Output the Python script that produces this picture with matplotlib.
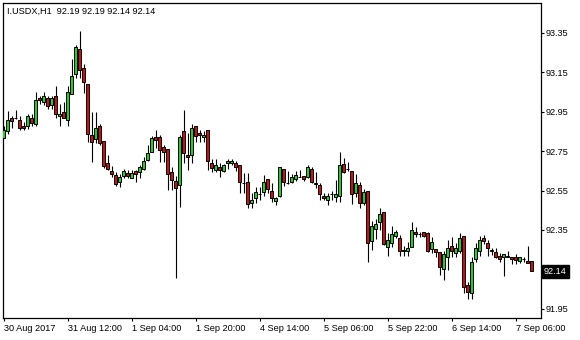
import numpy as np
import matplotlib.pyplot as plt

# H1 candles of I.USDX, 30 Aug 2017 20:00 .. 7 Sep 2017 10:00
opens = [92.819, 92.853, 92.917, 92.917, 92.907, 92.878, 92.876, 92.917, 92.887, 93.019,
         92.998, 93.019, 92.985, 93.029, 92.927, 92.947, 92.907, 93.039, 93.140, 93.267,
         93.171, 93.090, 92.832, 92.810, 92.878, 92.802, 92.689, 92.650, 92.629, 92.595,
         92.626, 92.639, 92.616, 92.648, 92.646, 92.660, 92.707, 92.747, 92.822, 92.822,
         92.771, 92.761, 92.646, 92.599, 92.577, 92.853, 92.731, 92.728, 92.878, 92.842,
         92.821, 92.856, 92.689, 92.655, 92.668, 92.648, 92.689, 92.689, 92.692, 92.680,
         92.590, 92.594, 92.489, 92.511, 92.531, 92.541, 92.607, 92.548, 92.499, 92.521,
         92.658, 92.590, 92.595, 92.607, 92.619, 92.624, 92.618, 92.658, 92.587, 92.578,
         92.523, 92.501, 92.533, 92.519, 92.521, 92.687, 92.658, 92.650, 92.536, 92.578,
         92.489, 92.547, 92.296, 92.355, 92.388, 92.441, 92.265, 92.286, 92.320, 92.311,
         92.245, 92.245, 92.265, 92.341, 92.330, 92.341, 92.333, 92.254, 92.252, 92.240,
         92.151, 92.215, 92.269, 92.235, 92.245, 92.320, 92.069, 92.029, 92.201, 92.245,
         92.308, 92.286, 92.245, 92.238, 92.218, 92.211, 92.215, 92.215, 92.211, 92.194,
         92.201, 92.193, 92.19]
highs = [92.878, 92.954, 92.930, 92.958, 92.927, 92.900, 92.937, 92.937, 93.051, 93.032,
         93.051, 93.029, 93.032, 93.081, 92.991, 92.998, 93.081, 93.216, 93.289, 93.360,
         93.191, 93.090, 92.947, 92.947, 92.887, 92.802, 92.731, 92.676, 92.646, 92.636,
         92.660, 92.656, 92.656, 92.656, 92.680, 92.721, 92.781, 92.826, 92.859, 92.832,
         92.781, 92.761, 92.670, 92.626, 92.832, 92.959, 92.842, 92.888, 92.878, 92.858,
         92.854, 92.856, 92.709, 92.709, 92.692, 92.685, 92.709, 92.709, 92.699, 92.680,
         92.638, 92.638, 92.536, 92.570, 92.567, 92.629, 92.607, 92.587, 92.519, 92.671,
         92.658, 92.651, 92.634, 92.651, 92.655, 92.624, 92.680, 92.670, 92.644, 92.589,
         92.538, 92.540, 92.549, 92.604, 92.748, 92.715, 92.695, 92.650, 92.634, 92.595,
         92.558, 92.547, 92.396, 92.406, 92.460, 92.441, 92.333, 92.370, 92.350, 92.325,
         92.269, 92.291, 92.392, 92.364, 92.341, 92.341, 92.341, 92.313, 92.252, 92.240,
         92.245, 92.299, 92.316, 92.286, 92.336, 92.320, 92.088, 92.215, 92.286, 92.320,
         92.325, 92.299, 92.257, 92.257, 92.235, 92.228, 92.245, 92.215, 92.228, 92.211,
         92.211, 92.269, 92.19]
lows = [92.817, 92.839, 92.866, 92.913, 92.856, 92.856, 92.863, 92.876, 92.876, 92.991,
        92.985, 92.964, 92.964, 92.917, 92.876, 92.917, 92.876, 93.039, 93.120, 93.120,
        93.044, 92.798, 92.697, 92.790, 92.781, 92.666, 92.655, 92.619, 92.575, 92.568,
        92.616, 92.616, 92.616, 92.595, 92.616, 92.656, 92.700, 92.744, 92.768, 92.697,
        92.697, 92.555, 92.555, 92.108, 92.468, 92.692, 92.655, 92.690, 92.798, 92.797,
        92.797, 92.655, 92.646, 92.644, 92.618, 92.644, 92.658, 92.680, 92.651, 92.539,
        92.539, 92.460, 92.460, 92.486, 92.502, 92.523, 92.539, 92.494, 92.477, 92.518,
        92.572, 92.584, 92.587, 92.600, 92.618, 92.597, 92.612, 92.587, 92.563, 92.502,
        92.502, 92.478, 92.502, 92.491, 92.492, 92.637, 92.651, 92.482, 92.519, 92.460,
        92.477, 92.189, 92.246, 92.304, 92.350, 92.274, 92.218, 92.265, 92.308, 92.218,
        92.218, 92.218, 92.265, 92.313, 92.313, 92.316, 92.240, 92.232, 92.215, 92.122,
        92.096, 92.147, 92.211, 92.211, 92.232, 92.029, 91.998, 91.998, 92.189, 92.218,
        92.279, 92.218, 92.223, 92.206, 92.189, 92.117, 92.211, 92.177, 92.177, 92.184,
        92.189, 92.181, 92.14]
closes = [92.856, 92.907, 92.905, 92.916, 92.866, 92.866, 92.927, 92.895, 93.008, 93.008,
          93.029, 92.978, 93.019, 92.937, 92.937, 92.917, 93.051, 93.132, 93.277, 93.161,
          93.100, 92.839, 92.798, 92.866, 92.790, 92.676, 92.660, 92.636, 92.585, 92.619,
          92.650, 92.626, 92.639, 92.636, 92.670, 92.700, 92.741, 92.815, 92.808, 92.758,
          92.747, 92.636, 92.605, 92.565, 92.821, 92.739, 92.719, 92.866, 92.829, 92.830,
          92.834, 92.699, 92.666, 92.678, 92.655, 92.680, 92.699, 92.699, 92.668, 92.595,
          92.587, 92.482, 92.502, 92.541, 92.533, 92.595, 92.557, 92.511, 92.511, 92.668,
          92.594, 92.587, 92.618, 92.629, 92.621, 92.607, 92.668, 92.595, 92.585, 92.534,
          92.511, 92.523, 92.531, 92.533, 92.680, 92.646, 92.657, 92.533, 92.589, 92.485,
          92.541, 92.286, 92.370, 92.382, 92.429, 92.279, 92.299, 92.330, 92.341, 92.245,
          92.246, 92.257, 92.350, 92.330, 92.328, 92.320, 92.245, 92.291, 92.240, 92.161,
          92.230, 92.257, 92.245, 92.257, 92.308, 92.059, 92.037, 92.189, 92.257, 92.299,
          92.296, 92.257, 92.246, 92.211, 92.201, 92.228, 92.216, 92.201, 92.198, 92.211,
          92.200, 92.181, 92.14]

time_ticks = [0, 16, 32, 48, 64, 80, 96, 112, 128]
time_labels = ['30 Aug 2017', '31 Aug 12:00', '1 Sep 04:00', '1 Sep 20:00', '4 Sep 14:00',
               '5 Sep 06:00', '5 Sep 22:00', '6 Sep 14:00', '7 Sep 06:00']
price_ticks = [91.95, 92.35, 92.55, 92.75, 92.95, 93.15, 93.35]
last_price = 92.14

plt.rcParams['font.family'] = ['Liberation Sans', 'DejaVu Sans']
plt.rcParams['font.size'] = 6.6

o = np.array(opens)
h = np.array(highs)
l = np.array(lows)
c = np.array(closes)
x = np.arange(len(o))

fig = plt.figure(figsize=(5.8, 3.4), dpi=100)
ax = fig.add_axes([2.5/580, 22/340, 538/580, 315/340])

# wicks then bodies
ax.vlines(x, l, h, color='black', linewidth=0.8, zorder=2)
body_colors = np.where(c > o, '#22d022', '#cc1010')
ax.bar(x, c - o, bottom=o, width=0.75, color=body_colors,
       edgecolor='black', linewidth=0.7, zorder=3)

ax.set_xlim(-0.25, 134.25)
ax.set_ylim(91.903, 93.502)

ax.yaxis.tick_right()
ax.set_yticks(price_ticks)
ax.set_yticklabels(['%.2f' % p for p in price_ticks])
ax.set_xticks(time_ticks)
ax.set_xticklabels(time_labels, ha='left')
ax.tick_params(axis='both', length=2.5, width=0.8, pad=1.5, colors='black')

for s in ax.spines.values():
    s.set_linewidth(0.9)
    s.set_color('black')

# current price box on the right axis
ax.annotate('%.2f' % last_price, xy=(1.0, last_price), xycoords=('axes fraction', 'data'),
            xytext=(2.5, 0), textcoords='offset points', ha='left', va='center',
            color='white', annotation_clip=False,
            bbox=dict(boxstyle='square,pad=0.2', fc='black', ec='black'))

fig.text(7/580, 1 - 11/340, 'I.USDX,H1  92.19 92.19 92.14 92.14', ha='left', va='center')

fig.savefig('out.png', dpi=100)
